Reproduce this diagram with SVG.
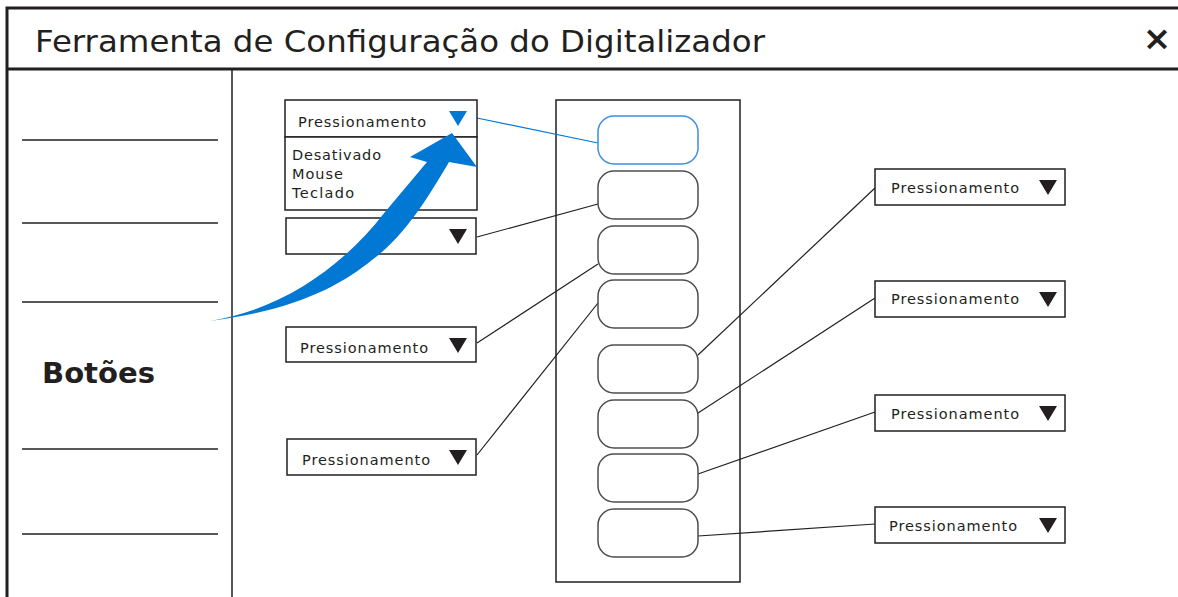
<svg xmlns="http://www.w3.org/2000/svg" width="1178" height="597" viewBox="0 0 1178 597">
<style>
.frame{fill:none;stroke:#231f20;stroke-width:3}
.thin{fill:none;stroke:#231f20;stroke-width:1.5}
.box{fill:#fff;stroke:#231f20;stroke-width:1.5}
.btn{fill:#fff;stroke:#4d4d4d;stroke-width:1.5}
.conn{stroke:#231f20;stroke-width:1.2;fill:none}
.t{font-family:"DejaVu Sans","Noto Sans",sans-serif;fill:#231f20}
.dd{font-size:14.5px}
.tri{fill:#231f20}
</style>
<rect width="1178" height="597" fill="#fff"/>
<g id="frame">
<path class="frame" d="M1180,8 H7 V599 M7,69 H1180"/>
<line x1="232" y1="69" x2="232" y2="597" class="thin"/>
<text class="t" x="35" y="52" font-size="30" textLength="730" lengthAdjust="spacingAndGlyphs">Ferramenta de Configuração do Digitalizador</text>
<text class="t" x="1157" y="50" font-size="34" font-weight="bold" text-anchor="middle">×</text>
</g>
<g id="left-panel">
<line x1="22" y1="140" x2="218" y2="140" class="thin"/>
<line x1="22" y1="223" x2="218" y2="223" class="thin"/>
<line x1="22" y1="302" x2="218" y2="302" class="thin"/>
<line x1="22" y1="449" x2="218" y2="449" class="thin"/>
<line x1="22" y1="534" x2="218" y2="534" class="thin"/>
<text class="t" x="42" y="383" font-size="28" font-weight="bold" textLength="113" lengthAdjust="spacingAndGlyphs">Botões</text>
</g>
<g id="device">
<rect x="556" y="100" width="184" height="482" fill="none" stroke="#231f20" stroke-width="1.5"/>
</g>
<g id="connectors">
<line x1="477" y1="118" x2="598" y2="143" stroke="#0078d4" stroke-width="1.2"/>
<line class="conn" x1="477" y1="237" x2="598" y2="204"/>
<line class="conn" x1="477" y1="343" x2="598" y2="264"/>
<line class="conn" x1="477" y1="455" x2="598" y2="303"/>
<line class="conn" x1="698" y1="355" x2="875" y2="188"/>
<line class="conn" x1="698" y1="413" x2="875" y2="298"/>
<line class="conn" x1="698" y1="474" x2="875" y2="412"/>
<line class="conn" x1="698" y1="536" x2="875" y2="524"/>
</g>
<g id="buttons">
<rect x="598" y="116" width="100" height="48" rx="16" fill="#fff" stroke="#3a8ee6" stroke-width="1.5"/>
<rect class="btn" x="598" y="171" width="100" height="48" rx="16"/>
<rect class="btn" x="598" y="226" width="100" height="48" rx="16"/>
<rect class="btn" x="598" y="280" width="100" height="48" rx="16"/>
<rect class="btn" x="598" y="345" width="100" height="48" rx="16"/>
<rect class="btn" x="598" y="400" width="100" height="48" rx="16"/>
<rect class="btn" x="598" y="454" width="100" height="48" rx="16"/>
<rect class="btn" x="598" y="509" width="100" height="48" rx="16"/>
</g>
<g id="dropdown-open">
<rect class="box" x="285" y="100" width="192" height="37"/>
<text class="t dd" x="298" y="127" textLength="128">Pressionamento</text>
<path d="M449,111 H467 L458,126 Z" fill="#0078d4"/>
<rect class="box" x="285" y="137" width="192" height="73"/>
<text class="t dd" x="292" y="160" textLength="89">Desativado</text>
<text class="t dd" x="292" y="179" textLength="51">Mouse</text>
<text class="t dd" x="292" y="198" textLength="62">Teclado</text>
</g>
<g id="dropdown-2">
<rect class="box" x="286" y="218" width="190" height="36"/>
<path class="tri" d="M449,229 H467 L458,244 Z"/>
</g>
<g id="dropdown-3">
<rect class="box" x="286" y="327" width="190" height="35"/>
<text class="t dd" x="300" y="353" textLength="128">Pressionamento</text>
<path class="tri" d="M449,338 H467 L458,353 Z"/>
</g>
<g id="dropdown-4">
<rect class="box" x="287" y="439" width="189" height="36"/>
<text class="t dd" x="302" y="465" textLength="128">Pressionamento</text>
<path class="tri" d="M449,450 H467 L458,465 Z"/>
</g>
<g id="dropdown-5">
<rect class="box" x="875" y="169" width="190" height="36"/>
<text class="t dd" x="891" y="193" textLength="128">Pressionamento</text>
<path class="tri" d="M1039,180 H1057 L1048,195 Z"/>
</g>
<g id="dropdown-6">
<rect class="box" x="875" y="281" width="190" height="36"/>
<text class="t dd" x="891" y="304" textLength="128">Pressionamento</text>
<path class="tri" d="M1039,292 H1057 L1048,307 Z"/>
</g>
<g id="dropdown-7">
<rect class="box" x="875" y="395" width="190" height="36"/>
<text class="t dd" x="891" y="419" textLength="128">Pressionamento</text>
<path class="tri" d="M1039,406 H1057 L1048,421 Z"/>
</g>
<g id="dropdown-8">
<rect class="box" x="875" y="507" width="190" height="36"/>
<text class="t dd" x="889" y="531" textLength="128">Pressionamento</text>
<path class="tri" d="M1039,518 H1057 L1048,533 Z"/>
</g>
<g id="arrow">
<path fill="#0078d4" d="M210,321 C280,310 342,268 385,212 L427,162 L410,157 L452,133 L477,167 L449,162 C428,198 403,238 372,260 C340,286 295,310 210,321 Z"/>
</g>
</svg>
